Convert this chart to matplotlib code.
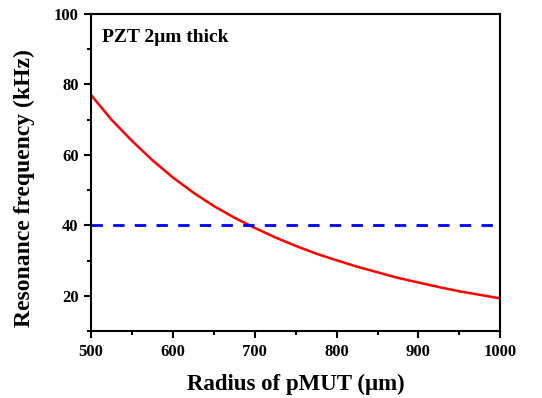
import numpy as np
import matplotlib
matplotlib.use("Agg")
import matplotlib.pyplot as plt
from matplotlib.ticker import MultipleLocator

plt.rcParams['font.family'] = ['Liberation Serif', 'DejaVu Serif']
plt.rcParams['font.weight'] = 'bold'

# radius (um) and resonance frequency (kHz)
radius = [500, 525, 550, 575, 600, 625, 650, 675, 700, 725, 750,
          775, 800, 825, 850, 875, 900, 925, 950, 975, 1000]
freq = [77.0, 70.0, 64.0, 58.5, 53.6, 49.3, 45.5, 42.2, 39.3, 36.6, 34.2,
        32.0, 30.1, 28.3, 26.7, 25.1, 23.8, 22.5, 21.3, 20.3, 19.3]
target_freq = 40

fig = plt.figure(figsize=(5.42, 3.98), dpi=100)
ax = fig.add_axes([0.168, 0.168, 0.755, 0.797])

ax.plot(radius, freq, color="red", lw=1.8)
ax.axhline(target_freq, color="blue", lw=2.0, ls=(0, (4.1, 3.7)))

ax.set_xlim(500, 1000)
ax.set_ylim(10, 100)
ax.xaxis.set_major_locator(MultipleLocator(100))
ax.xaxis.set_minor_locator(MultipleLocator(50))
ax.yaxis.set_minor_locator(MultipleLocator(10))
ax.set_yticks([20, 40, 60, 80, 100])

for s in ax.spines.values():
    s.set_linewidth(1.5)
ax.tick_params(which="major", direction="out", length=5, width=1.5, labelsize=12, pad=4)
ax.tick_params(which="minor", direction="out", length=3, width=1.5)
ax.tick_params(top=False, right=False, which="both")

ax.set_xlabel("Radius of pMUT (\u03bcm)", fontsize=16.5, fontweight="bold", labelpad=10)
ax.set_ylabel("Resonance frequency (kHz)", fontsize=17, fontweight="bold")
ax.yaxis.set_label_coords(-0.137, 0.45)
ax.text(0.027, 0.925, "PZT 2\u03bcm thick", transform=ax.transAxes,
        fontsize=14, fontweight="bold", va="center")

fig.savefig("out.png", dpi=100)
